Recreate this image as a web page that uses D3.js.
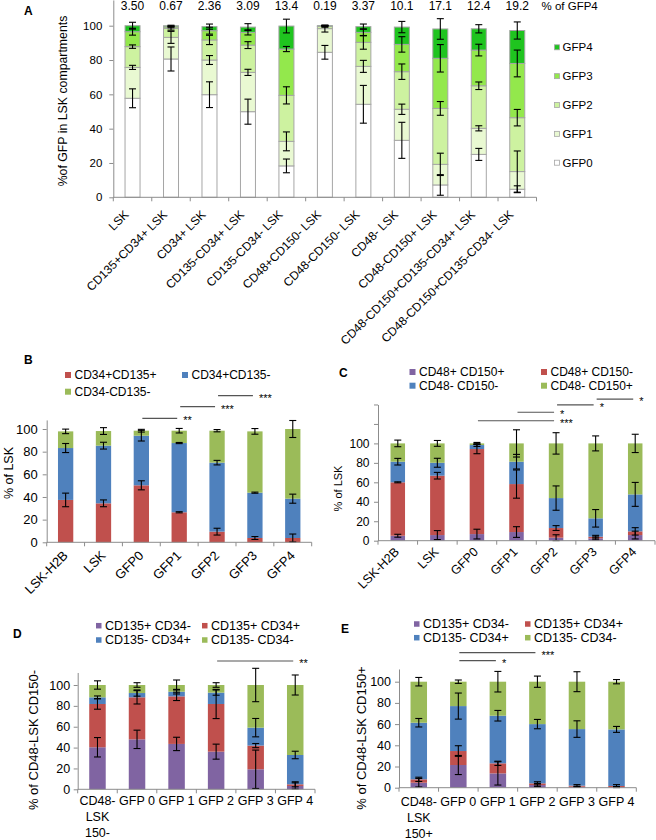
<!DOCTYPE html>
<html>
<head>
<meta charset="utf-8">
<script src="https://cdn.jsdelivr.net/npm/d3@7"></script>
<style>
  body { margin: 0; background: #fff; }
  text { font-family: Arial, "Liberation Sans", sans-serif; fill: #000; }
</style>
</head>
<body>
<svg id="fig" width="656" height="840"></svg>
<script>
// ---- panel A ----
let gfpKeys = ['GFP0', 'GFP1', 'GFP2', 'GFP3', 'GFP4']
let aCategories = ['LSK', 'CD135+CD34+ LSK', 'CD34+ LSK', 'CD135-CD34+ LSK', 'CD135-CD34- LSK',
  'CD48+CD150- LSK', 'CD48-CD150- LSK', 'CD48- LSK', 'CD48-CD150+ LSK',
  'CD48-CD150+CD135-CD34+ LSK', 'CD48-CD150+CD135-CD34- LSK']
let aValues = [
  [57.7, 18.0, 12.1, 8.7, 3.5],
  [80.6, 12.6, 5.2, 0.9, 0.67],
  [59.8, 20.2, 11.7, 5.4, 2.36],
  [49.9, 22.9, 15.9, 7.4, 3.09],
  [18.3, 14.3, 26.8, 27.0, 13.4],
  [84.5, 13.8, 1.3, 0.2, 0.19],
  [54.2, 22.1, 14.0, 5.8, 3.37],
  [33.2, 18.1, 21.9, 15.9, 10.1],
  [7.2, 12.0, 32.6, 29.2, 17.1],
  [25.0, 15.2, 24.8, 20.8, 12.4],
  [4.7, 10.3, 31.4, 31.6, 19.2]
]
let aErrors = [
  [5.5, 1.2, 1, 2, 2],
  [7, 3.5, 1, 0.5, 0.3],
  [7.5, 2.6, 2.7, 2, 1.5],
  [7.3, 1.8, 2, 1.5, 2],
  [4, 5.5, 5, 1.5, 4],
  [4, 2, 0.5, 0.3, 0.3],
  [11, 3.5, 4, 2, 1.5],
  [10.5, 3, 4.5, 4.5, 3.3],
  [6, 6.5, 4, 8, 6],
  [3.5, 1.5, 2.2, 3.4, 2.4],
  [2, 12, 4.8, 7.8, 5]
]
let aGfp4Labels = ['3.50', '0.67', '2.36', '3.09', '13.4', '0.19', '3.37', '10.1', '17.1', '12.4', '19.2']

// ---- panel B ----
let bKeys = ['CD34+CD135+', 'CD34+CD135-', 'CD34-CD135-']
let bCategories = ['LSK-H2B', 'LSK', 'GFP0', 'GFP1', 'GFP2', 'GFP3', 'GFP4']
let bValues = [
  [37.4, 45.8, 14.7],
  [34.4, 50.9, 12.9],
  [50.3, 43.8, 4.4],
  [26.5, 61.1, 10.9],
  [9.4, 60.9, 28.2],
  [3.8, 40.0, 54.1],
  [3.8, 34.7, 61.5]
]
let bErrors = [[6, 4, 2], [3, 3, 3], [4, 4.7, 1.2], [0.5, 0.5, 2], [3, 2, 1], [1.3, 0.5, 2.5], [3.5, 4, 7.5]]
let bSig = [['GFP0', 'GFP1', '**', 109.4], ['GFP1', 'GFP2', '***', 119.7], ['GFP2', 'GFP3', '***', 129.4]]

// ---- panel C ----
let cKeys = ['CD48+ CD150+', 'CD48+ CD150-', 'CD48- CD150-', 'CD48- CD150+']
let cCategories = ['LSK-H2B', 'LSK', 'GFP0', 'GFP1', 'GFP2', 'GFP3', 'GFP4']
let cValues = [
  [5.1, 54.9, 21.2, 18.8],
  [5.8, 61.0, 13.3, 19.9],
  [6.8, 87.4, 4.1, 1.7],
  [8.9, 49.3, 23.0, 18.8],
  [3.1, 9.9, 30.8, 56.2],
  [2.4, 1.7, 18.9, 77.0],
  [5.8, 3.8, 38.0, 52.4]
]
let cErrors = [[1.5, 0.5, 3.4, 3.4], [4.6, 3.4, 4.6, 3], [5, 4.8, 1.4, 1], [5.5, 14.5, 7.5, 14],
  [3, 2.5, 12.5, 11], [1.5, 1.4, 9, 7.7], [4, 3.8, 12.3, 9.4]]
let cSig = [['GFP0', 'GFP2', '***', 123.3], ['GFP1', 'GFP2', '*', 132], ['GFP2', 'GFP3', '*', 139.5], ['GFP3', 'GFP4', '*', 145.6]]

// ---- panels D and E ----
let deKeys = ['CD135+ CD34-', 'CD135+ CD34+', 'CD135- CD34+', 'CD135- CD34-']
let dCategories = ['CD48-|LSK|150-', 'GFP 0', 'GFP 1', 'GFP 2', 'GFP 3', 'GFP 4']
let dValues = [
  [40.3, 41.5, 6.4, 11.8],
  [47.9, 40.3, 4.1, 7.7],
  [43.5, 45.6, 4.5, 6.4],
  [36.1, 45.7, 10.9, 7.3],
  [19.2, 22.7, 17.2, 40.9],
  [3.2, 1.6, 28.1, 67.1]
]
let dErrors = [[9.3, 5, 1.3, 4], [8.8, 6.4, 3, 2.2], [6.4, 4, 2.2, 4.8], [7.2, 14, 2.5, 2.2], [18.4, 2, 8.8, 16], [3, 2.4, 3.6, 9.6]]
let dSig = [['GFP 2', 'GFP 4', '**', 123]]

let eCategories = ['CD48-|LSK|150+', 'GFP 0', 'GFP 1', 'GFP 2', 'GFP 3', 'GFP 4']
let eValues = [
  [4.7, 3.2, 53.4, 38.7],
  [21.4, 13.2, 42.4, 23.0],
  [13.5, 9.5, 44.9, 32.1],
  [2.5, 1.6, 55.9, 40.0],
  [0.9, 1.0, 53.4, 44.7],
  [0.6, 1.0, 53.4, 45.0]
]
let eErrors = [[4, 2, 4, 4], [9, 5, 12.3, 1.6], [11, 2, 5, 9.7], [1.5, 1.5, 4.4, 5.3], [0.5, 1, 7.8, 9.4], [0.5, 1.3, 2.8, 2]]
let eSig = [['GFP 0', 'GFP 2', '***', 127.4], ['GFP 0', 'GFP 1', '*', 119.8]]

let tick20 = [0, 20, 40, 60, 80, 100]

let greens = ['#ffffff', '#e9f9d2', '#cdf2a0', '#93e84c', '#1fc41f']
let office3 = ['#c0504d', '#4f81bd', '#9bbb59']
let office4 = ['#8064a2', '#c0504d', '#4f81bd', '#9bbb59']

let svg = d3.select('#fig')
let axisGrey = '#8c8c8c'

function stackedPanel(p) {
  let g = svg.append('g')
  let x = d3.scaleBand().domain(p.categories).range([p.left, p.right])
  let y = d3.scaleLinear().domain([0, p.max]).range([p.bottom, p.top])
  let rows = p.categories.map((c, i) => {
    let r = { cat: c }
    p.keys.forEach((k, j) => (r[k] = p.values[i][j]))
    return r
  })
  let series = d3.stack().keys(p.keys)(rows)
  let cx = c => x(c) + x.bandwidth() / 2

  g.selectAll('.layer')
    .data(series)
    .enter()
    .append('g')
    .attr('fill', (d, i) => p.colors[i])
    .selectAll('rect')
    .data(d => d)
    .enter()
    .append('rect')
    .attr('x', d => cx(d.data.cat) - p.barW / 2)
    .attr('width', p.barW)
    .attr('y', d => y(d[1]))
    .attr('height', d => y(d[0]) - y(d[1]))
    .attr('stroke', p.stroke || 'none')
    .attr('stroke-width', 1)

  // error bars at each segment top
  let errs = []
  series.forEach((s, j) => s.forEach((d, i) => errs.push({ cat: d.data.cat, top: d[1], e: p.errors[i][j] })))
  let eb = g.selectAll('.err').data(errs).enter().append('g').attr('stroke', '#000').attr('stroke-width', 1.1)
  eb.append('line')
    .attr('x1', d => cx(d.cat)).attr('x2', d => cx(d.cat))
    .attr('y1', d => y(d.top - d.e)).attr('y2', d => y(d.top + d.e))
  eb.append('line')
    .attr('x1', d => cx(d.cat) - 3.5).attr('x2', d => cx(d.cat) + 3.5)
    .attr('y1', d => y(d.top + d.e)).attr('y2', d => y(d.top + d.e))
  eb.append('line')
    .attr('x1', d => cx(d.cat) - 3.5).attr('x2', d => cx(d.cat) + 3.5)
    .attr('y1', d => y(d.top - d.e)).attr('y2', d => y(d.top - d.e))

  // y axis
  let yAxis = g.append('g')
    .attr('transform', `translate(${p.left},0)`)
    .call(d3.axisLeft(y).tickValues(p.ticks).tickSize(4).tickSizeOuter(0).tickPadding(p.tickPad)
      .tickFormat(d => (d <= 100 ? d : '')))
  yAxis.selectAll('path, line').attr('stroke', axisGrey)
  yAxis.selectAll('text').style('font-size', p.tickFont + 'px').attr('fill', '#000')

  // x axis line with ticks between categories
  g.append('line')
    .attr('x1', p.left).attr('x2', p.right)
    .attr('y1', p.bottom).attr('y2', p.bottom)
    .attr('stroke', axisGrey)
  g.selectAll('.xtick')
    .data(p.categories.concat(['__end']))
    .enter()
    .append('line')
    .attr('x1', d => (d === '__end' ? p.right : x(d)))
    .attr('x2', d => (d === '__end' ? p.right : x(d)))
    .attr('y1', p.bottom).attr('y2', p.bottom + 4)
    .attr('stroke', axisGrey)

  // category labels
  if (p.rotate) {
    g.selectAll('.xlab')
      .data(p.categories)
      .enter()
      .append('text')
      .text(d => d)
      .attr('text-anchor', 'end')
      .style('font-size', p.labFont + 'px')
      .attr('transform', d => `translate(${cx(d) + p.labDx},${p.bottom + p.labDy}) rotate(-45)`)
  } else {
    g.selectAll('.xlab')
      .data(p.categories)
      .enter()
      .append('text')
      .attr('text-anchor', 'middle')
      .style('font-size', p.labFont + 'px')
      .each(function(d) {
        let t = d3.select(this)
        d.split('|').forEach((line, k) => {
          t.append('tspan').attr('x', cx(d)).attr('y', p.labLines[k]).text(line)
        })
      })
  }

  // y axis title
  g.append('text')
    .text(p.yTitle)
    .attr('text-anchor', 'middle')
    .style('font-size', p.titleFont + 'px')
    .attr('transform', `translate(${p.titleX},${p.titleY}) rotate(-90)`)

  // significance bars
  if (p.sig) {
    p.sig.forEach(([a, b, stars, lvl]) => {
      g.append('line')
        .attr('x1', cx(a) + 1).attr('x2', cx(b) - 2)
        .attr('y1', y(lvl)).attr('y2', y(lvl))
        .attr('stroke', '#555').attr('stroke-width', 1.2)
      g.append('text')
        .text(stars)
        .attr('x', cx(b) + 4)
        .attr('y', y(lvl) + 6)
        .style('font-size', '11px')
    })
  }
  return { x, y, cx }
}

function panelLetter(letter, x, y) {
  svg.append('text').text(letter).attr('x', x).attr('y', y)
    .style('font-size', '12px').style('font-weight', 'bold')
}

function gridLegend(keys, colors, cols, rows, fontSize, square) {
  keys.forEach((k, i) => {
    let lx = cols[i % 2]
    let ly = rows[Math.floor(i / 2)]
    svg.append('rect')
      .attr('x', lx).attr('y', ly - square / 2)
      .attr('width', square).attr('height', square)
      .attr('fill', colors[i])
    svg.append('text').text(k)
      .attr('x', lx + square + 3.5).attr('y', ly)
      .attr('dy', '0.35em')
      .style('font-size', fontSize + 'px')
  })
}

// ===== Panel A =====
panelLetter('A', 24, 15)
let A = stackedPanel({
  categories: aCategories, keys: gfpKeys, values: aValues, errors: aErrors, colors: greens,
  left: 113.3, right: 536.5, bottom: 197.3, top: 25.7 - 15 * 1.716, max: 115,
  barW: 15, stroke: '#a6a6a6', ticks: tick20, tickPad: 7, tickFont: 11.5,
  rotate: true, labFont: 12, labDx: -3, labDy: 18,
  yTitle: '%of GFP in LSK compartments', titleFont: 12.3, titleX: 67, titleY: 101
})
svg.selectAll('.gfp4')
  .data(aCategories)
  .enter()
  .append('text')
  .text((d, i) => aGfp4Labels[i])
  .attr('x', d => A.cx(d))
  .attr('y', 10)
  .attr('text-anchor', 'middle')
  .style('font-size', '12px')
svg.append('text').text('% of GFP4').attr('x', 541.5).attr('y', 10).style('font-size', '11.5px')

// legend A (GFP4 on top)
gfpKeys.slice().reverse().forEach((k, i) => {
  let ly = 47.3 + i * 28.85
  svg.append('rect').attr('x', 554.5).attr('y', ly - 2.5).attr('width', 5).attr('height', 5)
    .attr('fill', greens[4 - i]).attr('stroke', '#a6a6a6').attr('stroke-width', 0.8)
  svg.append('text').text(k).attr('x', 562.5).attr('y', ly).attr('dy', '0.35em').style('font-size', '11.5px')
})

// ===== Panel B =====
panelLetter('B', 24, 364)
gridLegend(bKeys, office3, [65, 182], [375, 391.7], 12, 6)
stackedPanel({
  categories: bCategories, keys: bKeys, values: bValues, errors: bErrors, colors: office3,
  left: 46.7, right: 311.7, bottom: 542.3, top: 542.3 - 108 * 1.133, max: 108,
  barW: 15.3, ticks: tick20, tickPad: 5, tickFont: 13,
  rotate: true, labFont: 13, labDx: 3, labDy: 14,
  yTitle: '% of LSK', titleFont: 12.5, titleX: 12.5, titleY: 473, sig: bSig
})

// ===== Panel C =====
panelLetter('C', 339, 377)
gridLegend(cKeys, office4, [409.5, 541], [372, 385.7], 12, 6)
stackedPanel({
  categories: cCategories, keys: cKeys, values: cValues, errors: cErrors, colors: office4,
  left: 378, right: 655, bottom: 540.7, top: 540.7 - 140 * 0.973, max: 140,
  barW: 14.5, ticks: [0, 20, 40, 60, 80, 100, 120, 140], tickPad: 4.5, tickFont: 12,
  rotate: true, labFont: 12.5, labDx: 2, labDy: 12,
  yTitle: '% of LSK', titleFont: 11, titleX: 342, titleY: 488.5, sig: cSig
})

// ===== Panel D =====
panelLetter('D', 13, 638)
gridLegend(deKeys, office4, [96, 202], [625.7, 640], 12.5, 5.5)
stackedPanel({
  categories: dCategories, keys: deKeys, values: dValues, errors: dErrors, colors: office4,
  left: 77.7, right: 315, bottom: 789.3, top: 789.3 - 112 * 1.043, max: 112,
  barW: 16.5, ticks: tick20, tickPad: 3.5, tickFont: 12.5,
  rotate: false, labFont: 12.5, labLines: [805, 821, 837],
  yTitle: '% of CD48-LSK CD150-', titleFont: 13, titleX: 38, titleY: 740, sig: dSig
})

// ===== Panel E =====
panelLetter('E', 341, 633)
gridLegend(deKeys, office4, [414, 525], [624, 637.7], 12.5, 5.5)
stackedPanel({
  categories: eCategories, keys: deKeys, values: eValues, errors: eErrors, colors: office4,
  left: 399, right: 636.3, bottom: 787.7, top: 787.7 - 112 * 1.06, max: 112,
  barW: 16.5, ticks: tick20, tickPad: 4, tickFont: 12.5,
  rotate: false, labFont: 12.5, labLines: [806, 822, 838],
  yTitle: '% of CD48-LSK CD150+', titleFont: 13, titleX: 366, titleY: 738, sig: eSig
})
</script>
</body>
</html>
